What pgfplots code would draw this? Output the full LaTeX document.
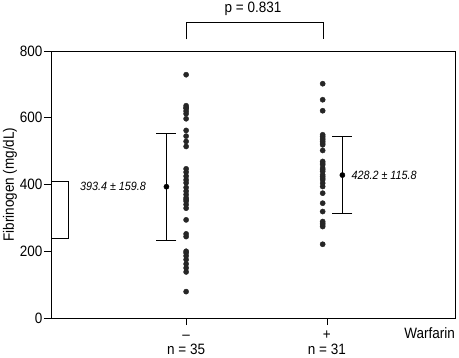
\documentclass[border=0pt]{standalone}
\usepackage{fontspec}
\setmainfont{Liberation Sans}[FakeStretch=0.9]
\usepackage{pgfplots}
\pgfplotsset{compat=1.18}
\newcommand{\bigf}{\fontsize{15}{17}\selectfont}
\newcommand{\smallf}{\fontsize{12}{14}\selectfont}
\begin{document}
\begin{tikzpicture}
\path[use as bounding box] (0,0) rectangle (459pt,357pt);
\begin{axis}[at={(51pt,39pt)}, anchor=south west, scale only axis,
  width=404pt, height=267pt,
  xmin=0.04, xmax=2.91, ymin=0, ymax=800,
  ytick={0,200,400,600,800}, xtick={1,2},
  xticklabels={–,+},
  xticklabel style={font=\bigf, text height=10.7pt, text depth=0pt, inner sep=0pt, yshift=-4pt},
  yticklabel style={font=\bigf, inner sep=1.5pt},
  tick align=outside, tick pos=left, major tick length=7pt,
  /pgf/number format/assume math mode=true,
  ylabel={Fibrinogen (mg/dL)},
  ylabel style={at={(axis description cs:-0.1015,0.5)}, anchor=center, font=\bigf},
  clip=false,
  axis line style={line width=0.8pt},
  every tick/.style={line width=0.8pt, black},
  ]
% Warfarin - group
\addplot[only marks, mark=*, mark size=2.6pt, color=black!85] coordinates {
(1,729) (1,636) (1,628) (1,620) (1,612) (1,630) (1,597)
(1,562) (1,545) (1,529) (1,514)
(1,447) (1,437) (1,425) (1,414) (1,405)
(1,391) (1,380) (1,370) (1,360) (1,355) (1,350) (1,340) (1,329)
(1,294) (1,252) (1,244)
(1,200) (1,195) (1,186) (1,175) (1,162) (1,150) (1,138)
(1,79)
};
% Warfarin + group
\addplot[only marks, mark=*, mark size=2.6pt, color=black!85] coordinates {
(1.97,702) (1.97,654) (1.97,621)
(1.97,549) (1.97,544) (1.97,539) (1.97,534) (1.97,529) (1.97,524) (1.97,519)
(1.97,502)
(1.97,469) (1.97,464) (1.97,459) (1.97,449) (1.97,444) (1.97,439)
(1.97,429) (1.97,424) (1.97,419) (1.97,414) (1.97,404)
(1.97,394) (1.97,374) (1.97,344) (1.97,319)
(1.97,289) (1.97,284) (1.97,279) (1.97,274)
(1.97,221)
};
% means with SD
\addplot[only marks, mark=*, mark size=2.6pt, color=black,
  error bars/.cd, y dir=both, y explicit,
  error mark=|, error mark options={mark size=10pt, line width=0.8pt, black},
  error bar style={line width=0.8pt, black}] coordinates {
(0.86,393.4) +- (0,159.8)
(2.11,428.2) +- (0,115.8)
};
\node[anchor=east, font=\smallf\itshape] at (axis cs:0.74,393.4) {393.4 ± 159.8};
\node[anchor=west, font=\smallf\itshape] at (axis cs:2.15,428.2) {428.2 ± 115.8};
% left bracket
\draw[line width=0.8pt] (axis cs:0.04,408) -| (axis cs:0.163,240) -- (axis cs:0.04,240);
% top bracket
\draw[line width=0.8pt] (axis cs:1.005,835) |- (axis cs:1.973,887) -- (axis cs:1.973,835);
\node[font=\bigf] at (axis cs:1.475,926) {p = 0.831};
\node[anchor=base east, yshift=-20pt, inner sep=0pt, font=\bigf] at (rel axis cs:1,0) {Warfarin};
\node[anchor=base, yshift=-36.5pt, inner sep=0pt, font=\bigf] at (axis cs:1,0) {n = 35};
\node[anchor=base, yshift=-36.5pt, inner sep=0pt, font=\bigf] at (axis cs:2,0) {n = 31};
\end{axis}
\end{tikzpicture}
\end{document}
